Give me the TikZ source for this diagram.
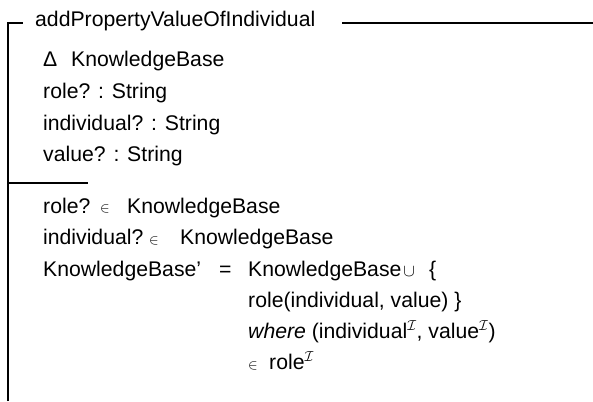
\documentclass[tikz,border=0pt]{standalone}
\usepackage{fontspec}
\setmainfont{Liberation Sans}
\newcommand\zel{{\fontsize{13.5}{13.5}\selectfont\raisebox{0.5pt}{$\in$}}}
\newcommand\zcup{{\fontsize{16}{16}\selectfont$\cup$}}
\newcommand\zI{$^{\mathcal{I}}$}
\begin{document}
\begin{tikzpicture}[x=1pt,y=-1pt,
  txt/.style={anchor=base west, inner sep=0pt, font=\fontsize{21.2}{25}\selectfont},
  rule/.style={line width=2pt, draw=black}]
\useasboundingbox (0,0) rectangle (593,401);
\node[txt] (title) at (35,27) {addPropertyValueOfIndividual};
\node[txt] (delta) at (43,67) {Δ};
\node[txt] (d1) at (71,67) {KnowledgeBase};
\node[txt] (d2) at (43,98.5) {role? : String};
\node[txt] (d3) at (43,130) {individual? : String};
\node[txt] (d4) at (43,161.5) {value? : String};
\node[txt] (p1) at (43,213) {role?};
\node[txt] (p1e) at (100,213) {\zel};
\node[txt] (p1k) at (127,213) {KnowledgeBase};
\node[txt] (p2) at (43,244.5) {individual?};
\node[txt] (p2e) at (149,244.5) {\zel};
\node[txt] (p2k) at (180,244.5) {KnowledgeBase};
\node[txt] (p3) at (43,276) {KnowledgeBase’};
\node[txt] (eq) at (219,276) {=};
\node[txt] (p3b) at (248,276) {KnowledgeBase\hspace{2pt}\zcup};
\node[txt] (p3c) at (429,276) {\{};
\node[txt] (p4) at (248,307.5) {role(individual, value) \}};
\node[txt] (p5) at (248,338.5) {\textit{where} (individual\zI, value\zI)};
\node[txt] (p6e) at (248,369.5) {\zel};
\node[txt] (p6) at (269,369.5) {role\zI};
\draw[rule] (8,401) -- (8,23) -- (23,23);
\draw[rule] (342,23) -- (593,23);
\draw[rule] (8,183) -- (88,183);
\end{tikzpicture}
\end{document}
